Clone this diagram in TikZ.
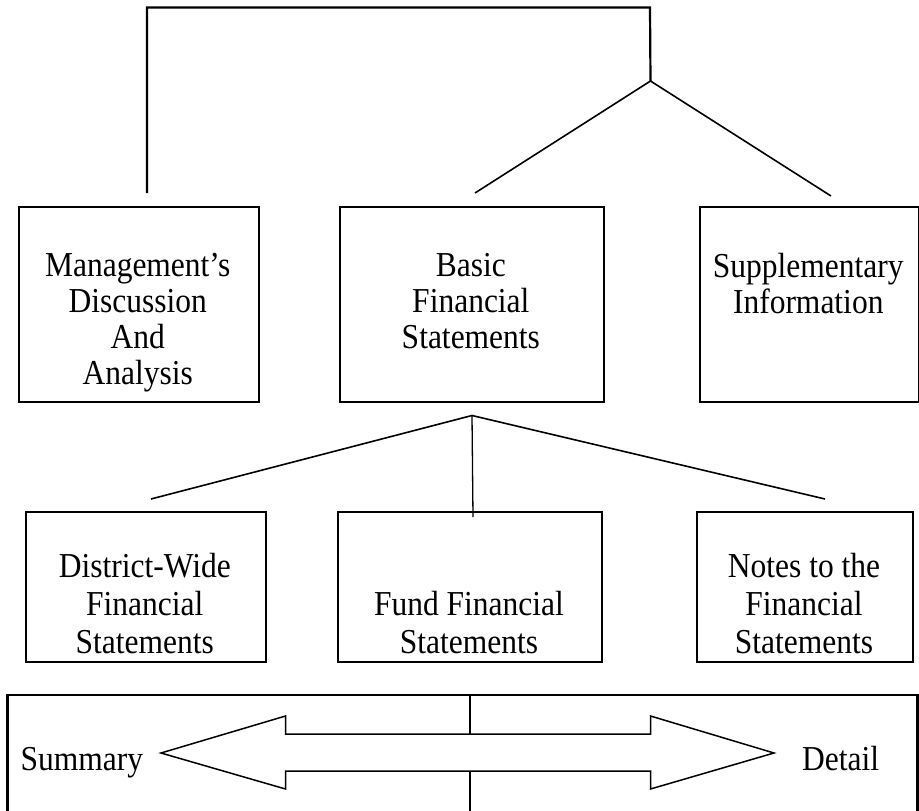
\documentclass[tikz,border=0pt]{standalone}
\usepackage{fontspec}
\setmainfont{Liberation Serif}
\newcommand{\condtxt}[1]{\scalebox{0.9}[1]{#1}}
\begin{document}
\begin{tikzpicture}[x=1pt,y=-1pt,
  box/.style={draw, line width=2.2pt, inner sep=0pt, anchor=north west},
  uptxt/.style={anchor=north, align=center, inner sep=0pt, font=\fontsize{35}{36}\selectfont},
  lowtxt/.style={anchor=north, align=center, inner sep=0pt, font=\fontsize{35}{38}\selectfont},
  plain/.style={anchor=base west, inner sep=0pt, font=\fontsize{35}{36}\selectfont},
  conn/.style={line width=1.6pt},
  bracket/.style={line width=2.2pt},
  thin/.style={line width=1.3pt},
  arrowshape/.style={draw, line width=1.5pt, fill=white, line join=miter}
]
\useasboundingbox (0,0) rectangle (919,811);

% upper boxes
\node[box, minimum width=240.5pt, minimum height=195pt] (mda) at (17.5,206) {};
\node[box, minimum width=263.7pt, minimum height=195pt] (bfs) at (339,206) {};
\node[box, minimum width=218.5pt, minimum height=195pt] (sup) at (699,206) {};

\node[uptxt] (mdaT) at (137.75,253) {\condtxt{Management’s}\\\condtxt{Discussion}\\\condtxt{And}\\\condtxt{Analysis}};
\node[uptxt] (bfsT) at (470.85,253) {\condtxt{Basic}\\\condtxt{Financial}\\\condtxt{Statements}};
\node[uptxt] (supT) at (808.25,253) {\condtxt{Supplementary}\\\condtxt{Information}};

% lower boxes
\node[box, minimum width=240.4pt, minimum height=150pt] (dw) at (24.6,511) {};
\node[box, minimum width=264pt, minimum height=150pt] (ff) at (337,511) {};
\node[box, minimum width=216pt, minimum height=150pt] (nt) at (696,511) {};

\node[lowtxt] (dwT) at (144.8,553) {\condtxt{District-Wide}\\\condtxt{Financial}\\\condtxt{Statements}};
\node[lowtxt] (ffT) at (469,591) {\condtxt{Fund Financial}\\\condtxt{Statements}};
\node[lowtxt] (ntT) at (804,553) {\condtxt{Notes to the}\\\condtxt{Financial}\\\condtxt{Statements}};

% top connectors
\coordinate (mdaTop) at (147,193);
\coordinate (cornerL) at (147,7.5);
\coordinate (cornerR) at (650,7.5);
\coordinate (jTop) at (650.5,81);
\coordinate (bfsTop) at (475,193);
\coordinate (supTop) at (831,196);
\draw[bracket] (mdaTop) -- (cornerL) -- (cornerR) -- (jTop);
\draw[conn] (jTop) -- (bfsTop);
\draw[conn] (jTop) -- (supTop);

% lower connectors
\coordinate (jBot) at (472,415.5);
\coordinate (dwTop) at (151,499);
\coordinate (ffTop) at (473,517);
\coordinate (ntTop) at (825,499);
\draw[conn] (jBot) -- (dwTop);
\draw[thin] (jBot) -- (ffTop);
\draw[conn] (jBot) -- (ntTop);

% bottom frame
\draw[line width=2.2pt] (7.5,815) -- (7.5,695) -- (917.5,695) -- (917.5,815);
\coordinate (midTop) at (470,695);
\coordinate (midBot) at (470,815);

% double arrow
\draw[arrowshape] (161,753) -- (285.5,716) -- (285.5,734) -- (650.5,734) -- (650.5,716)
  -- (774,753) -- (650.5,789) -- (650.5,771) -- (285.5,771) -- (285.5,789) -- cycle;
\draw[thin] (midTop) -- (470,734);
\draw[thin] (470,771) -- (midBot);

\node[plain] (summary) at (20.5,770) {\condtxt{Summary}};
\node[plain] (detail) at (802,770) {\condtxt{Detail}};
\end{tikzpicture}
\end{document}
